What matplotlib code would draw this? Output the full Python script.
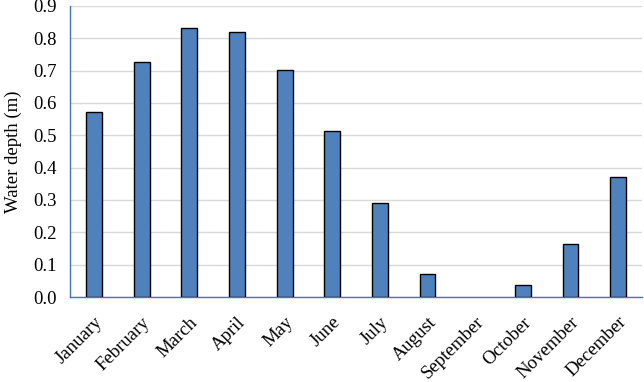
import numpy as np
import matplotlib.pyplot as plt

plt.rcParams['font.family'] = ['Liberation Serif', 'DejaVu Serif']

months = ['January', 'February', 'March', 'April', 'May', 'June', 'July',
          'August', 'September', 'October', 'November', 'December']
depth = [0.571, 0.728, 0.832, 0.820, 0.703, 0.512, 0.290, 0.070, 0.0, 0.038, 0.164, 0.372]
yticks = [0.0, 0.1, 0.2, 0.3, 0.4, 0.5, 0.6, 0.7, 0.8, 0.9]

fig = plt.figure(figsize=(6.44, 3.82), dpi=100)
ax = fig.add_axes([0.109, 0.2225, 0.888, 0.762])

x = np.arange(len(months))
# zero-height bars show no outline in the original
lw = [1.0 if v > 0 else 0 for v in depth]
ax.bar(x, depth, width=0.33, color='#4F81BD', edgecolor='black', linewidth=lw, zorder=3)

ax.set_xlim(-0.5, len(months) - 0.5)
ax.set_ylim(0, 0.9)
ax.set_yticks(yticks)
ax.set_yticklabels(['%.1f' % v for v in yticks], fontsize=13.5)
ax.set_xticks(x)
ax.set_xticklabels(months, rotation=45, ha='right', rotation_mode='anchor', fontsize=13.5)
ax.set_ylabel('Water depth (m)', fontsize=13.5, labelpad=8)

ax.grid(axis='y', color='#D9D9D9', linewidth=1.0, zorder=0)
ax.tick_params(axis='y', length=0, pad=10)
ax.tick_params(axis='x', length=0, pad=12)
for s in ['top', 'right']:
    ax.spines[s].set_visible(False)
for s in ['left', 'bottom']:
    ax.spines[s].set_color('#4472C4')
    ax.spines[s].set_linewidth(1.0)

plt.savefig('out.png', dpi=100)
